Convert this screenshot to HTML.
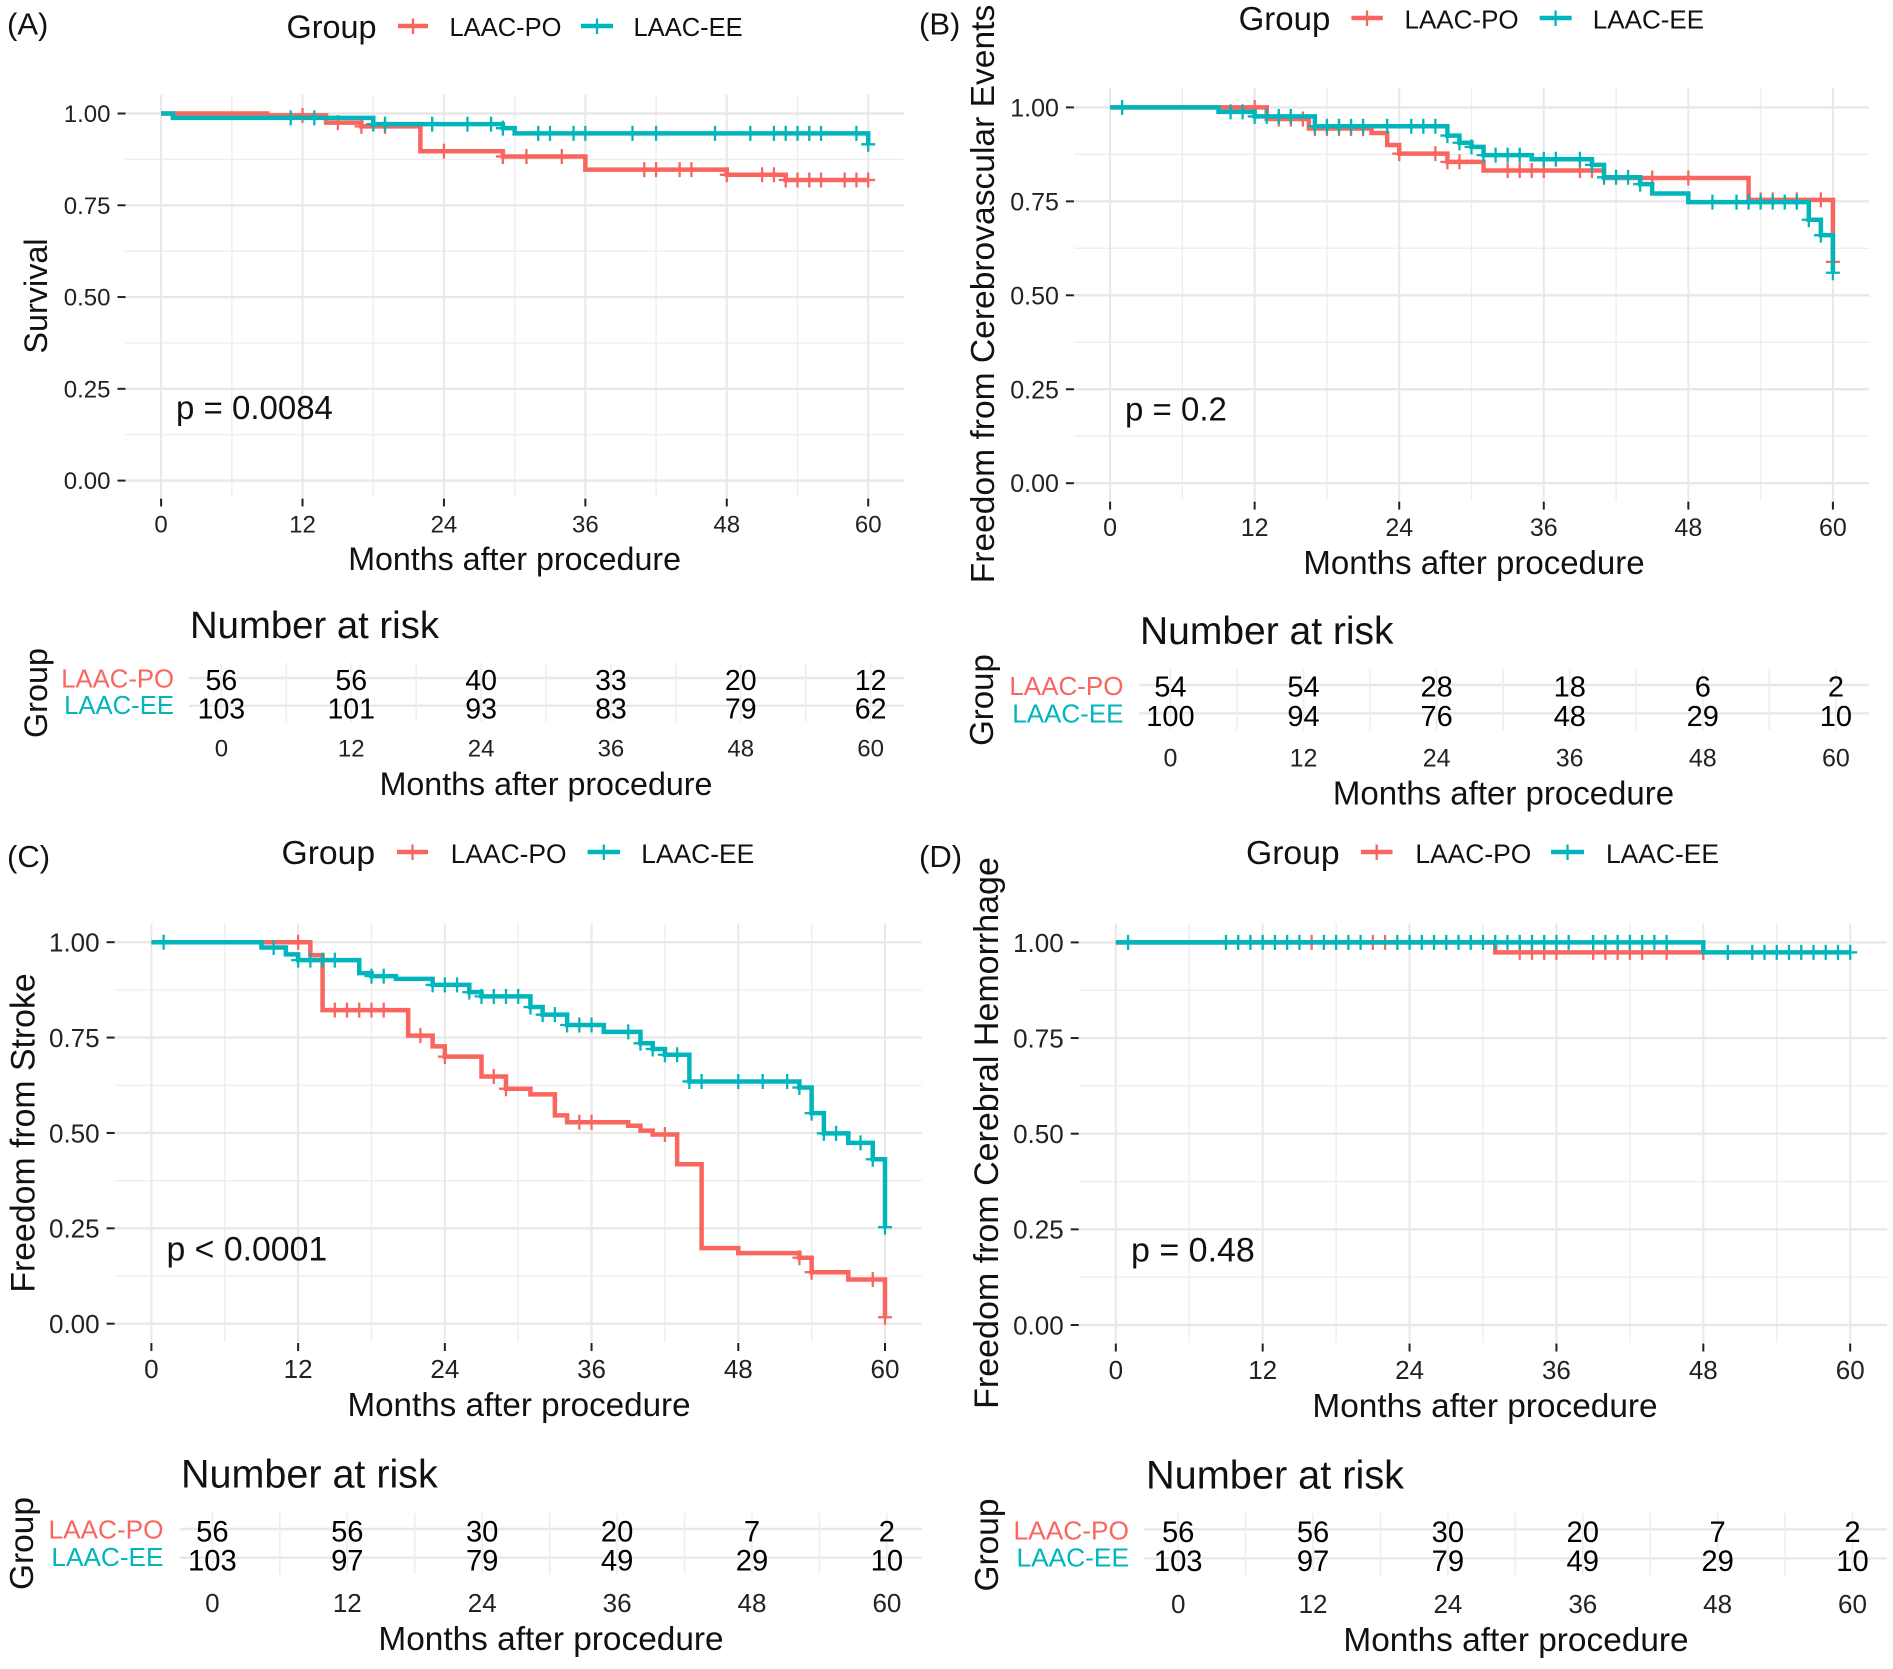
<!DOCTYPE html>
<html lang="en">
<head>
<meta charset="utf-8">
<title>Kaplan-Meier curves LAAC-PO vs LAAC-EE</title>
<style>
html,body{margin:0;padding:0;background:#fff;}
svg{display:block;font-family:"Liberation Sans",Arial,sans-serif;}
.tt{fill:#111;}
.lg{font-size:25.5px;fill:#111;}
.gr{font-size:32px;fill:#111;}
.pv{font-size:33px;fill:#111;}
.xl{font-size:32px;fill:#111;text-anchor:middle;}
.yl{fill:#111;text-anchor:middle;}
.nr{font-size:38px;fill:#111;}
.po{font-size:25.7px;fill:#F8665F;text-anchor:end;}
.ee{font-size:25.7px;fill:#00B5BB;text-anchor:end;}
.kp{stroke:#F8665F;fill:none;}
.ke{stroke:#00B5BB;fill:none;}
</style>
</head>
<body>
<svg id="figure" xmlns="http://www.w3.org/2000/svg" width="1893" height="1669" viewBox="0 0 1893 1669">
<rect width="1893" height="1669" fill="#fff"/>

<g id="layer-grid"></g>

<!-- Panel A -->
<g>
<text class="tt" x="7" y="34.5" font-size="31">(A)</text>
<text class="gr" x="286.5" y="38" style="font-size:32.4px">Group</text>
<g><line class="kp" x1="398" x2="428" y1="26" y2="26" stroke-width="4.5"/><line class="kp" x1="413" x2="413" y1="18.5" y2="34" stroke-width="2.3"/><text class="lg" x="449.5" y="36">LAAC-PO</text></g>
<g><line class="ke" x1="581" x2="613" y1="26" y2="26" stroke-width="4.5"/><line class="ke" x1="597" x2="597" y1="18.5" y2="34" stroke-width="2.3"/><text class="lg" x="633.5" y="36">LAAC-EE</text></g>
<text class="yl" font-size="32.4" transform="translate(47 296) rotate(-90)">Survival</text>
<text class="xl" x="514.6" y="570" style="font-size:32.2px">Months after procedure</text>
<text class="pv" x="176" y="419">p = 0.0084</text>
<text class="nr" x="190" y="638" style="font-size:38.3px">Number at risk</text>
<text class="yl" font-size="32.4" transform="translate(47 693) rotate(-90)">Group</text>
<text class="po" x="174" y="687.5">LAAC-PO</text>
<text class="ee" x="174" y="714">LAAC-EE</text>
<text class="xl" x="546" y="795" style="font-size:32.2px">Months after procedure</text>
</g>

<!-- Panel B -->
<g>
<text class="tt" x="919" y="34.5" font-size="31">(B)</text>
<text class="gr" x="1238.6" y="30" style="font-size:33px">Group</text>
<g><line class="kp" x1="1351.4" x2="1382.8" y1="18" y2="18" stroke-width="4.5"/><line class="kp" x1="1367" x2="1367" y1="10.5" y2="26" stroke-width="2.3"/><text class="lg" x="1404.5" y="28.5" style="font-size:26px">LAAC-PO</text></g>
<g><line class="ke" x1="1539.7" x2="1571.6" y1="18" y2="18" stroke-width="4.5"/><line class="ke" x1="1555.6" x2="1555.6" y1="10.5" y2="26" stroke-width="2.3"/><text class="lg" x="1592.8" y="28.5" style="font-size:26px">LAAC-EE</text></g>
<text class="yl" font-size="33.6" transform="translate(994 294) rotate(-90)">Freedom from Cerebrovascular Events</text>
<text class="xl" x="1474" y="574" style="font-size:33px">Months after procedure</text>
<text class="pv" x="1125" y="420.5">p = 0.2</text>
<text class="nr" x="1140" y="644" style="font-size:39px">Number at risk</text>
<text class="yl" font-size="33" transform="translate(993 700) rotate(-90)">Group</text>
<text class="po" x="1123.5" y="695" style="font-size:26px">LAAC-PO</text>
<text class="ee" x="1123.5" y="722.7" style="font-size:26px">LAAC-EE</text>
<text class="xl" x="1503.5" y="804.5" style="font-size:33px">Months after procedure</text>
</g>

<!-- Panel C -->
<g>
<text class="tt" x="7" y="867" font-size="31">(C)</text>
<text class="gr" x="281.5" y="864" style="font-size:33.7px">Group</text>
<g><line class="kp" x1="397" x2="428" y1="852" y2="852" stroke-width="4.5"/><line class="kp" x1="412.5" x2="412.5" y1="844.5" y2="860" stroke-width="2.3"/><text class="lg" x="450.7" y="863" style="font-size:26.4px">LAAC-PO</text></g>
<g><line class="ke" x1="587.6" x2="620" y1="852" y2="852" stroke-width="4.5"/><line class="ke" x1="603.8" x2="603.8" y1="844.5" y2="860" stroke-width="2.3"/><text class="lg" x="641.3" y="863" style="font-size:26.4px">LAAC-EE</text></g>
<text class="yl" font-size="33.8" transform="translate(34.5 1133) rotate(-90)">Freedom from Stroke</text>
<text class="xl" x="519" y="1416" style="font-size:33.2px">Months after procedure</text>
<text class="pv" x="166.5" y="1260.5" style="font-size:33.8px">p &lt; 0.0001</text>
<text class="nr" x="181" y="1487.5" style="font-size:39.5px">Number at risk</text>
<text class="yl" font-size="33.5" transform="translate(33 1543.5) rotate(-90)">Group</text>
<text class="po" x="163.5" y="1538.3" style="font-size:26.2px">LAAC-PO</text>
<text class="ee" x="163.5" y="1566" style="font-size:26.2px">LAAC-EE</text>
<text class="xl" x="551" y="1650" style="font-size:33.4px">Months after procedure</text>
</g>

<!-- Panel D -->
<g>
<text class="tt" x="919" y="867" font-size="31">(D)</text>
<text class="gr" x="1246" y="864" style="font-size:33.7px">Group</text>
<g><line class="kp" x1="1361" x2="1392.5" y1="852" y2="852" stroke-width="4.5"/><line class="kp" x1="1376.7" x2="1376.7" y1="844.5" y2="860" stroke-width="2.3"/><text class="lg" x="1415.4" y="863" style="font-size:26.4px">LAAC-PO</text></g>
<g><line class="ke" x1="1551" x2="1584" y1="852" y2="852" stroke-width="4.5"/><line class="ke" x1="1567.5" x2="1567.5" y1="844.5" y2="860" stroke-width="2.3"/><text class="lg" x="1606" y="863" style="font-size:26.4px">LAAC-EE</text></g>
<text class="yl" font-size="34" transform="translate(998 1133) rotate(-90)">Freedom from Cerebral Hemorrhage</text>
<text class="xl" x="1485" y="1417" style="font-size:33.4px">Months after procedure</text>
<text class="pv" x="1131" y="1261.5" style="font-size:34px">p = 0.48</text>
<text class="nr" x="1146" y="1488.5" style="font-size:39.7px">Number at risk</text>
<text class="yl" font-size="33.5" transform="translate(998 1545) rotate(-90)">Group</text>
<text class="po" x="1129" y="1539.3" style="font-size:26.3px">LAAC-PO</text>
<text class="ee" x="1129" y="1566.7" style="font-size:26.3px">LAAC-EE</text>
<text class="xl" x="1516" y="1651" style="font-size:33.4px">Months after procedure</text>
</g>

<g id="layer-marks"></g>
</svg>

<script>
// ---- shared tick labels ----
const monthTicks = [0, 12, 24, 36, 48, 60];
const survivalTicks = [0, 0.25, 0.5, 0.75, 1];
const survivalTickLabels = ["0.00", "0.25", "0.50", "0.75", "1.00"];
const survivalMinorTicks = [0.125, 0.375, 0.625, 0.875];
const monthMinorTicks = [6, 18, 30, 42, 54];

// ---- Panel A: Survival ----
const aPoTimes = [0, 9, 14, 17, 22, 29, 36, 48, 53];
const aPoSurvival = [1, 0.995, 0.975, 0.965, 0.897, 0.883, 0.847, 0.833, 0.819];
const aPoCensored = [12, 15, 17, 19, 24, 29, 31, 34, 41, 42, 44, 45, 48, 51, 52, 53, 54, 55, 56, 58, 59, 60];
const aEeTimes = [0, 1, 18, 29, 30, 60];
const aEeSurvival = [1, 0.988, 0.971, 0.96, 0.946, 0.916];
const aEeCensored = [11, 13, 18, 19, 23, 26, 28, 29, 32, 33, 35, 36, 40, 42, 47, 50, 52, 53, 54, 55, 56, 59, 60];
const aRiskPo = [56, 56, 40, 33, 20, 12];
const aRiskEe = [103, 101, 93, 83, 79, 62];

// ---- Panel B: Freedom from Cerebrovascular Events ----
const bPoTimes = [0, 13, 16.5, 21.7, 23, 24, 28, 31, 41, 53, 60];
const bPoSurvival = [1, 0.969, 0.944, 0.932, 0.9, 0.877, 0.855, 0.832, 0.812, 0.754, 0.589];
const bPoCensored = [12, 14, 15, 16, 17, 18, 19, 20, 21, 24, 27, 28, 29, 33, 34, 35, 36, 39, 40, 45, 48, 54, 55, 57, 59, 60];
const bEeTimes = [0, 9, 12, 17, 28, 29, 30, 31, 35, 40, 41, 44, 45, 48, 58, 59, 60];
const bEeSurvival = [1, 0.988, 0.976, 0.95, 0.925, 0.906, 0.895, 0.873, 0.862, 0.847, 0.814, 0.796, 0.771, 0.748, 0.701, 0.66, 0.56];
const bEeCensored = [1, 10, 11, 12, 13, 14, 15, 17, 18, 19, 20, 21, 23, 25, 26, 27, 28, 29, 30, 31, 32, 33, 34, 36, 37, 39, 40, 41, 42, 43, 44, 50, 52, 53, 54, 55, 56, 57, 58, 59, 60];
const bRiskPo = [54, 54, 28, 18, 6, 2];
const bRiskEe = [100, 94, 76, 48, 29, 10];

// ---- Panel C: Freedom from Stroke ----
const cPoTimes = [0, 13, 14, 21, 23, 24, 27, 29, 31, 33, 34, 39, 40, 41, 43, 45, 48, 53, 54, 57, 60];
const cPoSurvival = [1, 0.966, 0.822, 0.755, 0.727, 0.7, 0.648, 0.616, 0.601, 0.546, 0.528, 0.519, 0.506, 0.496, 0.418, 0.198, 0.185, 0.173, 0.135, 0.116, 0.017];
const cPoCensored = [12, 15, 16, 17, 18, 19, 22, 24, 28, 29, 35, 36, 42, 53, 54, 59, 60];
const cEeTimes = [0, 9, 11, 12, 17, 18, 20, 23, 26, 27, 31, 32, 34, 37, 40, 41, 42, 44, 53, 54, 55, 57, 59, 60];
const cEeSurvival = [1, 0.986, 0.968, 0.953, 0.919, 0.911, 0.904, 0.888, 0.869, 0.858, 0.83, 0.81, 0.783, 0.765, 0.735, 0.72, 0.705, 0.635, 0.619, 0.552, 0.499, 0.474, 0.431, 0.253];
const cEeCensored = [1, 10, 12, 13, 14, 15, 18, 19, 23, 24, 25, 26, 27, 28, 29, 30, 31, 32, 33, 34, 35, 36, 39, 40, 41, 42, 43, 44, 45, 48, 50, 52, 53, 54, 55, 56, 58, 59, 60];
const cRiskPo = [56, 56, 30, 20, 7, 2];
const cRiskEe = [103, 97, 79, 49, 29, 10];

// ---- Panel D: Freedom from Cerebral Hemorrhage ----
const dPoTimes = [0, 31];
const dPoSurvival = [1, 0.974];
const dPoCensored = [16, 21, 22, 33, 34, 35, 36, 39, 40, 41, 42, 43, 45, 48];
const dEeTimes = [0, 48];
const dEeSurvival = [1, 0.974];
const dEeCensored = [1, 9, 10, 11, 12, 13, 14, 15, 17, 18, 19, 20, 23, 24, 25, 26, 27, 28, 29, 30, 31, 32, 33, 34, 35, 36, 37, 39, 40, 41, 42, 43, 44, 45, 50, 52, 53, 54, 55, 56, 57, 58, 59, 60];
const dRiskPo = [56, 56, 30, 20, 7, 2];
const dRiskEe = [103, 97, 79, 49, 29, 10];

const PO_COLOR = "#F8665F";
const EE_COLOR = "#00B5BB";
const NS = "http://www.w3.org/2000/svg";
const gridLayer = document.getElementById("layer-grid");
const marksLayer = document.getElementById("layer-marks");

function make(tag, attrs, parent, content) {
  const node = document.createElementNS(NS, tag);
  for (const key in attrs) node.setAttribute(key, attrs[key]);
  if (content !== undefined) node.textContent = content;
  parent.appendChild(node);
  return node;
}

function levelAt(times, values, t) {
  let level = values[0];
  for (let i = 0; i < times.length; i++) {
    if (t >= times[i]) level = values[i];
  }
  return level;
}

function drawSeries(p, key, color, times, values, censored) {
  const x = p.xScale;
  const y = p.yScale;
  const end = Math.max(times[times.length - 1], censored[censored.length - 1]);
  let d = "M" + x(times[0]) + " " + y(values[0]);
  for (let i = 1; i < times.length; i++) {
    d += "H" + x(times[i]) + "V" + y(values[i]);
  }
  d += "H" + x(end);
  const line = make("path", {d: d, fill: "none", stroke: color, "stroke-width": 4.5, "stroke-linejoin": "miter"}, marksLayer);
  
  
  censored.forEach(function (t) {
    const cx = x(t);
    const cy = y(levelAt(times, values, t));
    const mark = make("path", {d: "M" + (cx - 7) + " " + cy + "H" + (cx + 7) + "M" + cx + " " + (cy - 7.5) + "V" + (cy + 7.5), fill: "none", stroke: color, "stroke-width": 2.3}, marksLayer);
    
    
  });
}

function drawPanel(p) {
  p.xScale = function (t) { return p.x0 + (t / 60) * (p.x60 - p.x0); };
  p.yScale = function (s) { return p.y0 + s * (p.y1 - p.y0); };
  const rx = function (t) { return p.rx0 + (t / 60) * (p.rx60 - p.rx0); };

  // main plot grid
  survivalMinorTicks.forEach(function (s) {
    const g = make("line", {x1: p.left, x2: p.right, y1: p.yScale(s), y2: p.yScale(s), stroke: "#eeeeee", "stroke-width": 1.4}, gridLayer);
    
    
  });
  monthMinorTicks.forEach(function (t) {
    const g = make("line", {x1: p.xScale(t), x2: p.xScale(t), y1: p.top, y2: p.bottom, stroke: "#eeeeee", "stroke-width": 1.4}, gridLayer);
    
    
  });
  survivalTicks.forEach(function (s, i) {
    const yy = p.yScale(s);
    const g = make("line", {x1: p.left, x2: p.right, y1: yy, y2: yy, stroke: "#e8e8e8", "stroke-width": 2.4}, gridLayer);
    
    
    const tick = make("line", {x1: p.left - 8, x2: p.left, y1: yy, y2: yy, stroke: "#222", "stroke-width": 2}, marksLayer);
    
    
    const lab = make("text", {x: p.left - 15, y: yy + p.tickFont * 0.36, "text-anchor": "end", "font-size": p.tickFont, fill: "#222"}, marksLayer, survivalTickLabels[i]);
    
    
  });
  monthTicks.forEach(function (t) {
    const xx = p.xScale(t);
    const g = make("line", {x1: xx, x2: xx, y1: p.top, y2: p.bottom, stroke: "#e8e8e8", "stroke-width": 2}, gridLayer);
    
    
    const tick = make("line", {x1: xx, x2: xx, y1: p.bottom + 1, y2: p.bottom + 9, stroke: "#222", "stroke-width": 2}, marksLayer);
    
    
    const lab = make("text", {x: xx, y: p.xLabelY, "text-anchor": "middle", "font-size": p.tickFont, fill: "#222"}, marksLayer, String(t));
    
    
  });

  // curves
  drawSeries(p, "laac-po", PO_COLOR, p.poTimes, p.poSurvival, p.poCensored);
  drawSeries(p, "laac-ee", EE_COLOR, p.eeTimes, p.eeSurvival, p.eeCensored);

  // risk table
  [p.row1, p.row2].forEach(function (yy) {
    const g = make("line", {x1: p.rLeft, x2: p.right, y1: yy, y2: yy, stroke: "#e8e8e8", "stroke-width": 2.4}, gridLayer);
    
    
  });
  monthMinorTicks.forEach(function (t) {
    const g = make("line", {x1: rx(t), x2: rx(t), y1: p.rTop, y2: p.rBottom, stroke: "#eeeeee", "stroke-width": 1.6}, gridLayer);
    
    
  });
  monthTicks.forEach(function (t, i) {
    const xx = rx(t);
    const g = make("line", {x1: xx, x2: xx, y1: p.rTop, y2: p.rBottom, stroke: "#eeeeee", "stroke-width": 1.6}, gridLayer);
    
    
    const n1 = make("text", {x: xx, y: p.row1Base, "text-anchor": "middle", "font-size": p.riskFont, fill: "#000"}, marksLayer, String(p.riskPo[i]));
    
    
    const n2 = make("text", {x: xx, y: p.row2Base, "text-anchor": "middle", "font-size": p.riskFont, fill: "#000"}, marksLayer, String(p.riskEe[i]));
    
    
    const lab = make("text", {x: xx, y: p.rTickY, "text-anchor": "middle", "font-size": p.tickFont, fill: "#222"}, marksLayer, String(t));
    
    
  });
}

drawPanel({id: "a", tickFont: 24, riskFont: 28.5, x0: 161.1, x60: 868.2, y1: 113.5, y0: 480.6, left: 125.5, right: 903.8, top: 95, bottom: 497.5, xLabelY: 532.7,
  rx0: 221.4, rx60: 870.6, rLeft: 188.8, rTop: 662.7, rBottom: 721.7, row1: 678, row2: 705.7, row1Base: 690, row2Base: 718.3, rTickY: 756.7,
  poTimes: aPoTimes, poSurvival: aPoSurvival, poCensored: aPoCensored, eeTimes: aEeTimes, eeSurvival: aEeSurvival, eeCensored: aEeCensored, riskPo: aRiskPo, riskEe: aRiskEe});
drawPanel({id: "b", tickFont: 25, riskFont: 29, x0: 1110.1, x60: 1832.9, y1: 107.4, y0: 483.2, left: 1073.9, right: 1869, top: 88, bottom: 500.6, xLabelY: 536,
  rx0: 1170.4, rx60: 1835.9, rLeft: 1139, rTop: 669.3, rBottom: 730, row1: 685, row2: 713.3, row1Base: 696.7, row2Base: 726, rTickY: 766.7,
  poTimes: bPoTimes, poSurvival: bPoSurvival, poCensored: bPoCensored, eeTimes: bEeTimes, eeSurvival: bEeSurvival, eeCensored: bEeCensored, riskPo: bRiskPo, riskEe: bRiskEe});
drawPanel({id: "c", tickFont: 26, riskFont: 29.2, x0: 151.4, x60: 885, y1: 942.2, y0: 1323.7, left: 114.6, right: 921.9, top: 923.4, bottom: 1342, xLabelY: 1378,
  rx0: 212.4, rx60: 886.9, rLeft: 179.8, rTop: 1513.3, rBottom: 1574.3, row1: 1529, row2: 1557.7, row1Base: 1541.7, row2Base: 1570.7, rTickY: 1612,
  poTimes: cPoTimes, poSurvival: cPoSurvival, poCensored: cPoCensored, eeTimes: cEeTimes, eeSurvival: cEeSurvival, eeCensored: cEeCensored, riskPo: cRiskPo, riskEe: cRiskEe});
drawPanel({id: "d", tickFont: 26, riskFont: 29.2, x0: 1115.8, x60: 1850.2, y1: 942.4, y0: 1325, left: 1078.7, right: 1887, top: 923.4, bottom: 1342.5, xLabelY: 1379,
  rx0: 1178.2, rx60: 1852.5, rLeft: 1143.9, rTop: 1513.3, rBottom: 1575, row1: 1529.3, row2: 1558.3, row1Base: 1542, row2Base: 1571, rTickY: 1613,
  poTimes: dPoTimes, poSurvival: dPoSurvival, poCensored: dPoCensored, eeTimes: dEeTimes, eeSurvival: dEeSurvival, eeCensored: dEeCensored, riskPo: dRiskPo, riskEe: dRiskEe});
</script>
</body>
</html>
